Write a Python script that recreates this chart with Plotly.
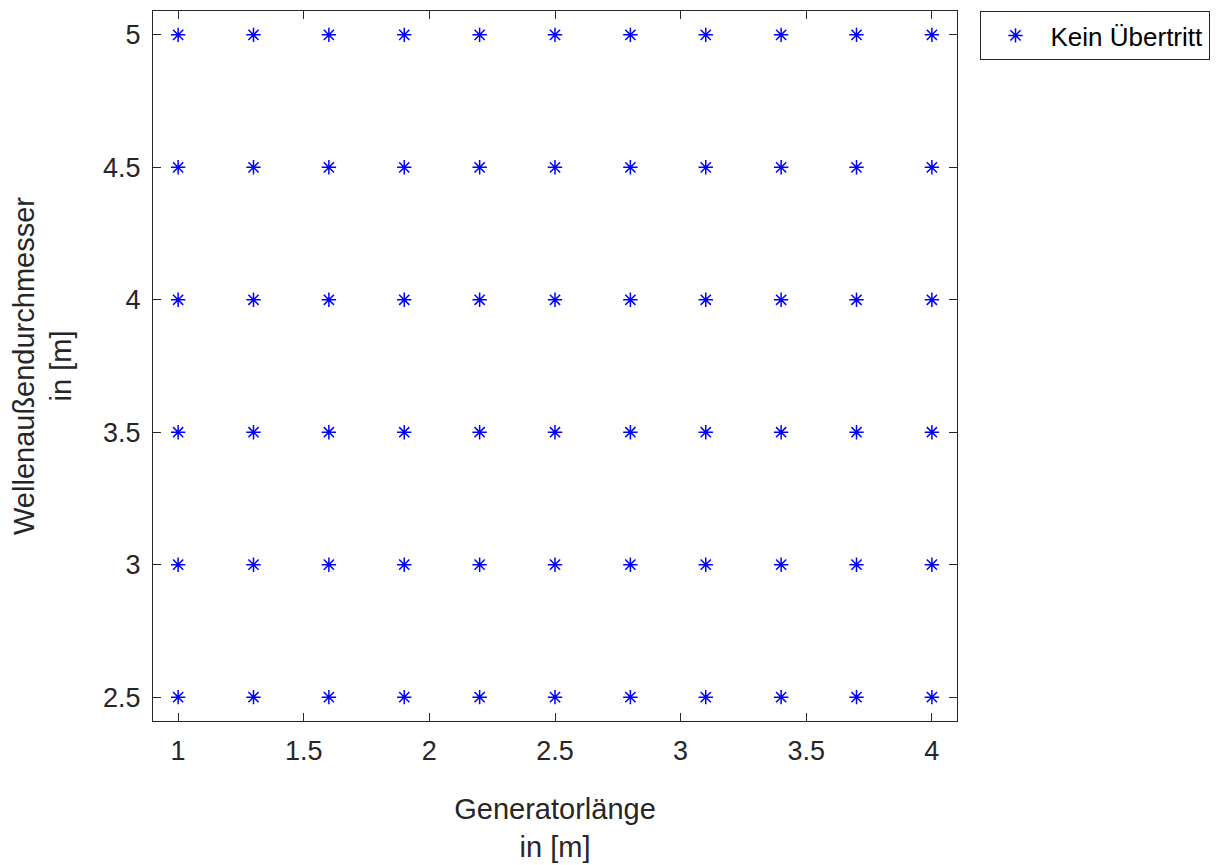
import plotly.graph_objects as go

gen_length = [1.0, 1.3, 1.6, 1.9, 2.2, 2.5, 2.8, 3.1, 3.4, 3.7, 4.0]
shaft_diam = [2.5, 3.0, 3.5, 4.0, 4.5, 5.0]
x_ticks = [1, 1.5, 2, 2.5, 3, 3.5, 4]
y_ticks = [2.5, 3, 3.5, 4, 4.5, 5]

xs, ys = [], []
for d in shaft_diam:
    for g in gen_length:
        xs.append(g)
        ys.append(d)

fig = go.Figure()
fig.add_trace(go.Scatter(
    x=xs, y=ys, mode="markers", name="Kein Übertritt",
    marker=dict(symbol="asterisk-open", size=12, color="#0000ff",
                line=dict(color="#0000ff", width=1.5)),
))

axis_common = dict(
    showline=True, linecolor="#262626", linewidth=1, mirror="ticks",
    ticks="inside", ticklen=8, tickcolor="#262626", showgrid=False, zeroline=False,
    ticklabelstandoff=6, automargin=False,
    tickfont=dict(family="Liberation Sans, Arial", size=27, color="#262626"),
)

fig.update_layout(
    width=1220, height=865,
    margin=dict(l=153, r=263, t=11, b=144),
    paper_bgcolor="white", plot_bgcolor="white",
    font=dict(family="Liberation Sans, Arial", color="#262626"),
    xaxis=dict(range=[0.9, 4.1], tickvals=x_ticks, ticktext=[str(t) for t in x_ticks],
               title=dict(text="Generatorlänge<br>in [m]", font=dict(size=29), standoff=33),
               **axis_common),
    yaxis=dict(range=[2.41, 5.09], tickvals=y_ticks, ticktext=[str(t) for t in y_ticks],
               title=dict(text="Wellenaußendurchmesser<br>in [m]", font=dict(size=29), standoff=22),
               **axis_common),
    showlegend=True,
    legend=dict(x=1.028, y=1.0, xanchor="left", yanchor="top",
                bordercolor="#262626", borderwidth=1, bgcolor="white",
                itemwidth=60,
                font=dict(size=26, color="#000000")),
)

fig.write_html("out.html")
